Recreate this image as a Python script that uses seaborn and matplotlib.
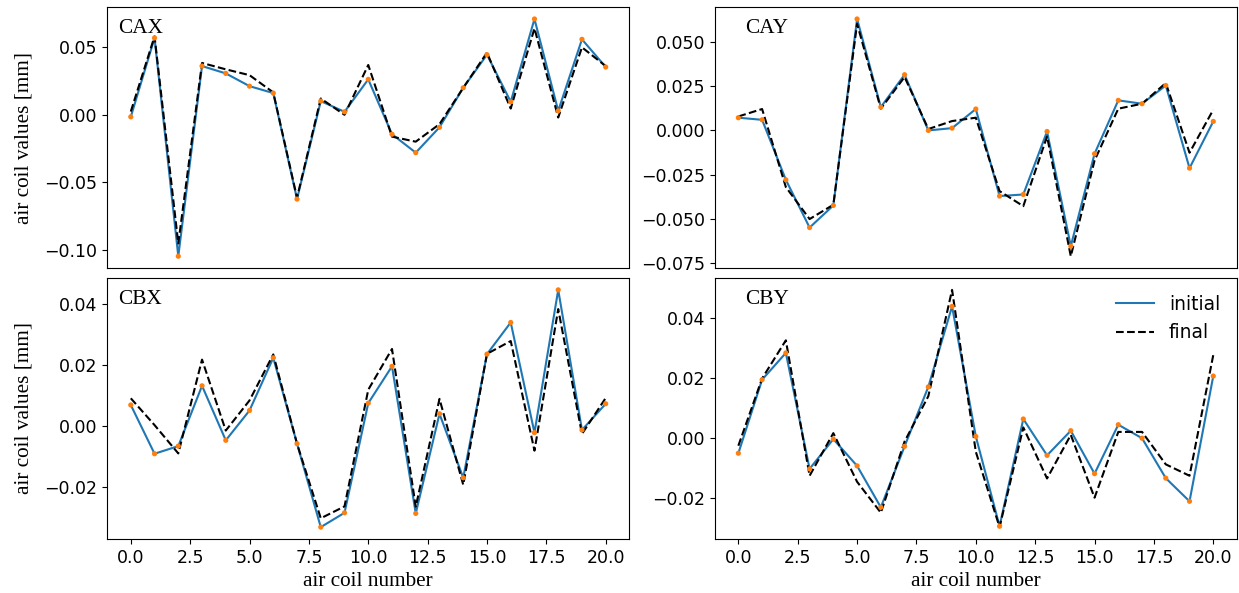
import numpy as np
import pandas as pd
import matplotlib
matplotlib.use("Agg")
import matplotlib.pyplot as plt
import seaborn as sns

coil = list(range(21))

cax_initial = [-0.0017, 0.0564, -0.1044, 0.0357, 0.0303, 0.0209, 0.0158, -0.0623, 0.0099, 0.0020,
               0.0259, -0.0145, -0.0281, -0.0094, 0.0197, 0.0441, 0.0094, 0.0704, 0.0027, 0.0554, 0.0350]
cax_final = [0.0022, 0.0576, -0.0950, 0.0380, 0.0333, 0.0290, 0.0163, -0.0613, 0.0118, -0.0002,
             0.0365, -0.0163, -0.0200, -0.0071, 0.0197, 0.0456, 0.0044, 0.0635, -0.0022, 0.0495, 0.0357]

cay_initial = [0.0072, 0.0060, -0.0279, -0.0549, -0.0424, 0.0630, 0.0132, 0.0315, 0.0000, 0.0013,
               0.0121, -0.0371, -0.0362, -0.0006, -0.0654, -0.0132, 0.0170, 0.0151, 0.0254, -0.0213, 0.0051]
cay_final = [0.0079, 0.0121, -0.0320, -0.0501, -0.0420, 0.0603, 0.0123, 0.0302, 0.0008, 0.0053,
             0.0072, -0.0343, -0.0428, -0.0034, -0.0711, -0.0170, 0.0123, 0.0151, 0.0268, -0.0126, 0.0117]

cbx_initial = [0.0069, -0.0091, -0.0066, 0.0132, -0.0047, 0.0051, 0.0224, -0.0058, -0.0332, -0.0285,
               0.0075, 0.0196, -0.0287, 0.0040, -0.0170, 0.0236, 0.0340, -0.0022, 0.0447, -0.0013, 0.0073]
cbx_final = [0.0091, 0.0003, -0.0090, 0.0218, -0.0015, 0.0084, 0.0235, -0.0058, -0.0303, -0.0264,
             0.0119, 0.0253, -0.0265, 0.0089, -0.0193, 0.0237, 0.0279, -0.0081, 0.0384, -0.0026, 0.0092]

cby_initial = [-0.0050, 0.0195, 0.0284, -0.0102, -0.0003, -0.0092, -0.0230, -0.0027, 0.0171, 0.0439,
               0.0006, -0.0293, 0.0064, -0.0057, 0.0025, -0.0118, 0.0045, 0.0000, -0.0133, -0.0210, 0.0207]
cby_final = [-0.0025, 0.0199, 0.0326, -0.0125, 0.0017, -0.0145, -0.0248, -0.0011, 0.0140, 0.0494,
             -0.0045, -0.0296, 0.0036, -0.0134, 0.0011, -0.0198, 0.0021, 0.0021, -0.0087, -0.0125, 0.0277]

panels = [("CAX", cax_initial, cax_final), ("CAY", cay_initial, cay_final),
          ("CBX", cbx_initial, cbx_final), ("CBY", cby_initial, cby_final)]

serif = ["Liberation Serif", "DejaVu Serif"]
plt.rcParams["font.family"] = ["DejaVu Sans"]

fig, axes = plt.subplots(2, 2, figsize=(12.39, 5.93), dpi=100)
fig.subplots_adjust(left=0.0864, right=0.9984, top=0.988, bottom=0.0911,
                    wspace=0.163, hspace=0.038)

for i, (ax, (name, ini, fin)) in enumerate(zip(axes.flat, panels)):
    df = pd.DataFrame({"coil": coil, "initial": ini, "final": fin})
    sns.lineplot(data=df, x="coil", y="initial", ax=ax, color="#1f77b4", lw=1.5, label="initial")
    sns.lineplot(data=df, x="coil", y="final", ax=ax, color="black", lw=1.5, linestyle="--", label="final")
    sns.scatterplot(data=df, x="coil", y="initial", ax=ax, color="#ff7f0e", s=14,
                    edgecolor="none", zorder=3)
    ax.set_xlim(-1, 21)
    ax.tick_params(labelsize=12.5)
    ax.set_xlabel("")
    ax.set_ylabel("")
    if i < 2:
        ax.set_xticks([])
    else:
        ax.set_xticks([0, 2.5, 5, 7.5, 10, 12.5, 15, 17.5, 20])
        ax.set_xlabel("air coil number", family=serif, fontsize=15.3)
    if i % 2 == 0:
        ax.set_ylabel("air coil values [mm]", family=serif, fontsize=15.3, labelpad=7.5)
    xoff = 0.021 if i % 2 == 0 else 0.058
    ax.text(xoff, 0.90, name, transform=ax.transAxes, family=serif, fontsize=15.3,
            va="baseline", ha="left")
    if i == 3:
        ax.legend(loc="upper right", frameon=False, fontsize=13.5)
    else:
        ax.get_legend().remove()

axes[0, 0].set_yticks([0.05, 0.0, -0.05, -0.10])
axes[0, 1].set_yticks([0.05, 0.025, 0.0, -0.025, -0.05, -0.075])
axes[1, 0].set_yticks([0.04, 0.02, 0.0, -0.02])
axes[1, 1].set_yticks([0.04, 0.02, 0.0, -0.02])

fig.savefig("out.png", dpi=100)
